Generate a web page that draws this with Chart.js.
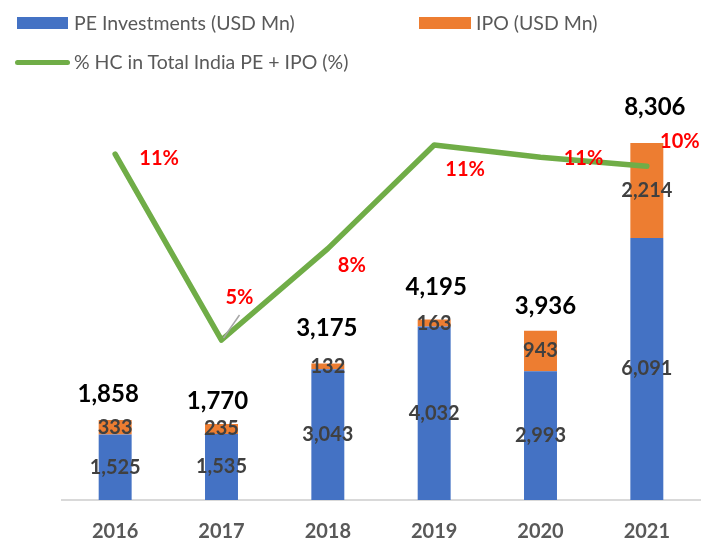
<!DOCTYPE html>
<html lang="en">
<head>
  <meta charset="UTF-8" />
  <title>PE + IPO healthcare investments</title>
  <script src="https://cdn.jsdelivr.net/npm/chart.js"></script>
  <style>
    body {
      margin: 0;
      background: #fff;
      font-family: Lato, "Open Sans", sans-serif;
    }
    .wrap {
      position: relative;
      width: 712px;
      height: 540px;
    }
    canvas {
      display: block;
    }
    .leyenda {
      position: absolute;
      font-size: 19.5px;
      color: #595959;
      line-height: 24px;
      white-space: nowrap;
    }
    .caja {
      position: absolute;
    }
  </style>
</head>
<body>
  <div class="wrap">
    <canvas id="grafica" width="712" height="540"></canvas>
    <div class="caja" style="left:17px;top:17px;width:51px;height:12px;background:#4472C4"></div>
    <div class="leyenda" style="left:74px;top:11px">PE Investments (USD Mn)</div>
    <div class="caja" style="left:419px;top:17px;width:52px;height:12px;background:#ED7D31"></div>
    <div class="leyenda" style="left:476px;top:11px">IPO (USD Mn)</div>
    <div class="caja" style="left:15px;top:60px;width:55px;height:5px;border-radius:3px;background:#70AD47"></div>
    <div class="leyenda" style="left:74px;top:50px">% HC in Total India PE + IPO (%)</div>
  </div>

  <script>
    const years = ["2016", "2017", "2018", "2019", "2020", "2021"];
    const peInvest = [1525, 1535, 3043, 4032, 2993, 6091];
    const ipoValues = [333, 235, 132, 163, 943, 2214];
    const totals = [1858, 1770, 3175, 4195, 3936, 8306];
    const hcShare = [11.1, 5.0, 8.0, 11.4, 11.0, 10.7];
    const hcLabels = ["11%", "5%", "8%", "11%", "11%", "10%"];

    // label offsets (style only)
    const totalOffsets = [[-7, -26], [-4, -23], [-1, -35], [2, -32], [5, -24], [8, -36]];
    const pctOffsets = [[44, 4], [18, -42], [24, 17], [31, 25], [43, 1], [33, -25]];

    const fmt = n => n.toLocaleString("en-US");

    const etiquetas = {
      id: "etiquetas",
      afterDatasetsDraw(chart) {
        const ctx = chart.ctx;
        const pe = chart.getDatasetMeta(0).data;
        const ipo = chart.getDatasetMeta(1).data;
        const linea = chart.getDatasetMeta(2).data;
        ctx.save();
        ctx.textAlign = "center";
        ctx.textBaseline = "middle";

        // values inside the segments
        ctx.font = "bold 20px Lato";
        ctx.fillStyle = "#404040";
        pe.forEach((b, i) => {
          ctx.fillText(fmt(peInvest[i]), b.x, (b.y + b.base) / 2);
        });
        ipo.forEach((b, i) => {
          ctx.fillText(fmt(ipoValues[i]), b.x, (b.y + b.base) / 2);
        });

        // totals above bars
        ctx.font = "bold 24px Lato";
        ctx.fillStyle = "#000";
        ipo.forEach((b, i) => {
          ctx.fillText(fmt(totals[i]), b.x + totalOffsets[i][0], b.y + totalOffsets[i][1]);
        });

        // leader line for 5%
        const p1 = linea[1];
        ctx.strokeStyle = "#A6A6A6";
        ctx.lineWidth = 1.5;
        ctx.beginPath();
        ctx.moveTo(p1.x + 2, p1.y - 2);
        ctx.lineTo(p1.x + 18, p1.y - 25);
        ctx.stroke();

        // percentages
        ctx.font = "bold 20px Lato";
        ctx.fillStyle = "#FF0000";
        linea.forEach((p, i) => {
          ctx.fillText(hcLabels[i], p.x + pctOffsets[i][0], p.y + pctOffsets[i][1]);
        });
        ctx.restore();
      }
    };

    new Chart(document.getElementById("grafica"), {
      type: "bar",
      data: {
        labels: years,
        datasets: [
          {
            label: "PE Investments (USD Mn)",
            data: peInvest,
            backgroundColor: "#4472C4",
            order: 1
          },
          {
            label: "IPO (USD Mn)",
            data: ipoValues,
            backgroundColor: "#ED7D31",
            order: 1
          },
          {
            type: "line",
            label: "% HC in Total India PE + IPO (%)",
            data: hcShare,
            yAxisID: "y1",
            borderColor: "#70AD47",
            borderWidth: 5.5,
            borderCapStyle: "round",
            borderJoinStyle: "round",
            pointRadius: 0,
            tension: 0,
            order: 0
          }
        ]
      },
      options: {
        responsive: false,
        animation: false,
        layout: { padding: { top: 113, left: 62, right: 12, bottom: 0 } },
        datasets: {
          bar: { categoryPercentage: 1, barPercentage: 0.31 }
        },
        plugins: {
          legend: { display: false },
          tooltip: { enabled: false }
        },
        scales: {
          x: {
            stacked: true,
            grid: { display: false, drawTicks: false },
            border: { display: true, color: "#D9D9D9", width: 2 },
            ticks: {
              padding: 20,
              maxRotation: 0,
              color: "#595959",
              font: { family: "Lato", size: 20, weight: "bold" }
            },
            afterFit(scale) {
              scale.height = 40;
            }
          },
          y: {
            stacked: true,
            display: false,
            min: 0,
            max: 9000
          },
          y1: {
            display: false,
            position: "right",
            min: -0.25,
            max: 12.45
          }
        }
      },
      plugins: [etiquetas]
    });
  </script>
</body>
</html>
